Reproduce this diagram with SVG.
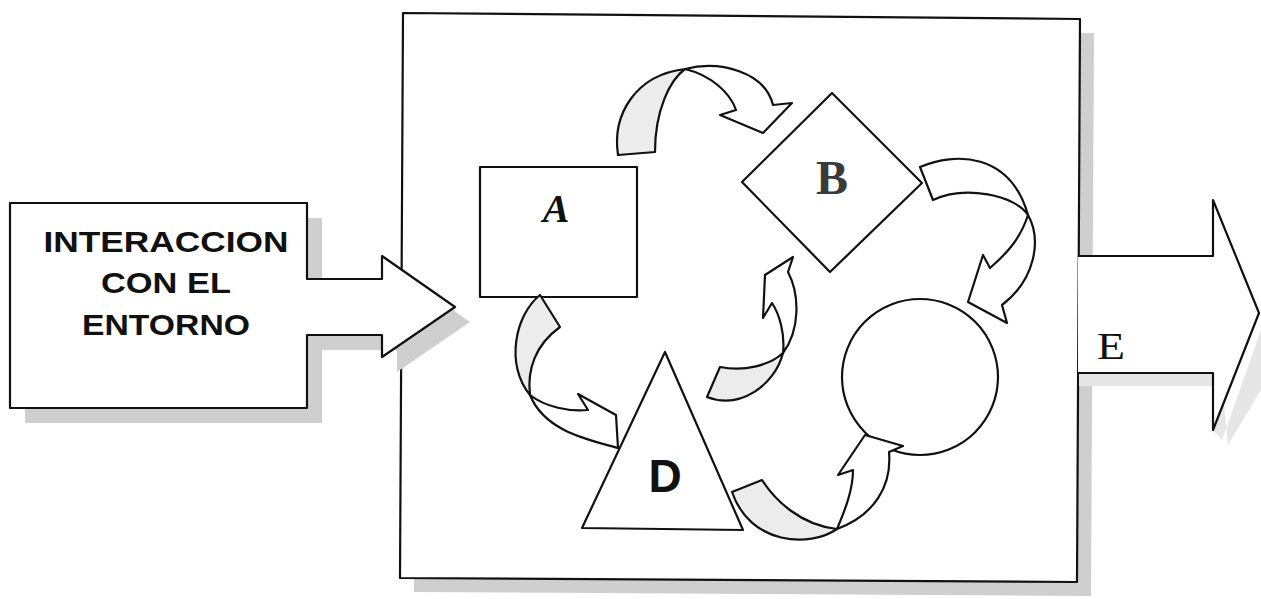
<svg xmlns="http://www.w3.org/2000/svg" width="1261" height="599" viewBox="0 0 1261 599">
<style>
.ln{fill:#ffffff;stroke:#111111;stroke-width:2.2;stroke-linejoin:round}
.bk{fill:#ececec;stroke:#111111;stroke-width:2.2;stroke-linejoin:round}
.sh{fill:#cfcfcf;stroke:none}
.lbl{font-family:"Liberation Sans",Arial,sans-serif;font-weight:bold;font-size:30px;fill:#111111;text-anchor:middle}
</style>
<rect width="1261" height="599" fill="#ffffff"/>
<g id="frame">
  <polygon class="sh" points="417,27 1094,33 1091,596 414,592"/>
  <polygon class="ln" points="403,13 1080,19 1077,582 400,578"/>
</g>
<g id="output-arrow">
  <polygon fill="#e6e6e6" points="1079,373 1213,373 1213,430 1222,440 1261,330 1261,390 1228,445 1222,386 1079,386"/>
  <path class="ln" d="M1078,256 L1213,256 L1213,200 L1259,313 L1213,430 L1213,373 L1078,373"/>
  <text x="1097" y="359" font-family="Liberation Serif,serif" font-size="37" fill="#111111" textLength="28" lengthAdjust="spacingAndGlyphs">E</text>
</g>
<g id="input">
  <path class="sh" d="M25,218 L322,218 L322,294 L397,294 L397,271 L470,322 L397,372 L397,350 L322,350 L322,423 L25,423 Z"/>
  <path class="ln" d="M10,203 L307,203 L307,279 L382,279 L382,256 L455,307 L382,357 L382,335 L307,335 L307,408 L10,408 Z"/>
  <text class="lbl" x="166" y="252" textLength="245" lengthAdjust="spacingAndGlyphs">INTERACCION</text>
  <text class="lbl" x="166" y="293" textLength="130" lengthAdjust="spacingAndGlyphs">CON EL</text>
  <text class="lbl" x="166" y="335" textLength="168" lengthAdjust="spacingAndGlyphs">ENTORNO</text>
</g>
<g id="node-A">
  <rect class="ln" x="480" y="167" width="157" height="130"/>
  <text x="556" y="222" font-family="Liberation Serif,serif" font-weight="bold" font-style="italic" font-size="40" fill="#111111" text-anchor="middle">A</text>
</g>
<g id="node-B">
  <polygon class="ln" points="832,93 922,183 830,272 742,182"/>
  <text x="832" y="194" font-family="Liberation Serif,serif" font-weight="bold" font-size="48" fill="#3a3a3a" text-anchor="middle">B</text>
</g>
<g id="node-C">
  <circle class="ln" cx="920" cy="377" r="78"/>
</g>
<g id="node-D">
  <polygon class="ln" points="665,352 743,530 582,528"/>
  <text x="665" y="492" font-family="Liberation Sans,Arial,sans-serif" font-weight="bold" font-size="46" fill="#111111" text-anchor="middle">D</text>
</g>
<g id="connectors">
  <g id="arrow-A-B">
    <path class="bk" d="M618,155 C612,115 635,75 685,69 C670,80 655,110 655,152 Z"/>
    <path class="ln" d="M685,69 C720,60 765,72 773,105 L792,103 L763,133 L720,115 L736,110 C730,92 710,75 685,69 Z"/>
  </g>
  <g id="arrow-B-C">
    <path class="ln" d="M920,167 C955,152 1010,152 1028,215 C1015,195 965,185 933,200 Z"/>
    <path class="ln" d="M1028,215 C1042,240 1035,280 1002,305 L1007,323 L968,302 L983,255 L990,268 C1005,255 1020,240 1028,215 Z"/>
  </g>
  <g id="arrow-A-D">
    <path class="bk" d="M540,295 C515,315 505,365 530,395 C527,370 535,345 560,327 Z"/>
    <path class="ln" d="M530,395 C545,407 570,412 588,410 L578,394 L616,415 L618,448 C590,440 545,432 530,395 Z"/>
  </g>
  <g id="arrow-D-C">
    <path class="bk" d="M762,480 C775,500 800,525 837,529 C810,548 750,545 732,492 Z"/>
    <path class="ln" d="M837,529 C845,510 853,490 853,470 L838,475 L865,435 L903,446 L889,452 C892,485 875,515 837,529 Z"/>
  </g>
  <g id="arrow-D-B">
    <path class="bk" d="M720,367 C745,372 770,365 783,353 C775,385 740,410 707,397 Z"/>
    <path class="ln" d="M783,353 C785,335 780,315 772,303 L763,318 L765,275 L793,257 L788,272 C800,295 800,330 783,353 Z"/>
  </g>
</g>
</svg>
